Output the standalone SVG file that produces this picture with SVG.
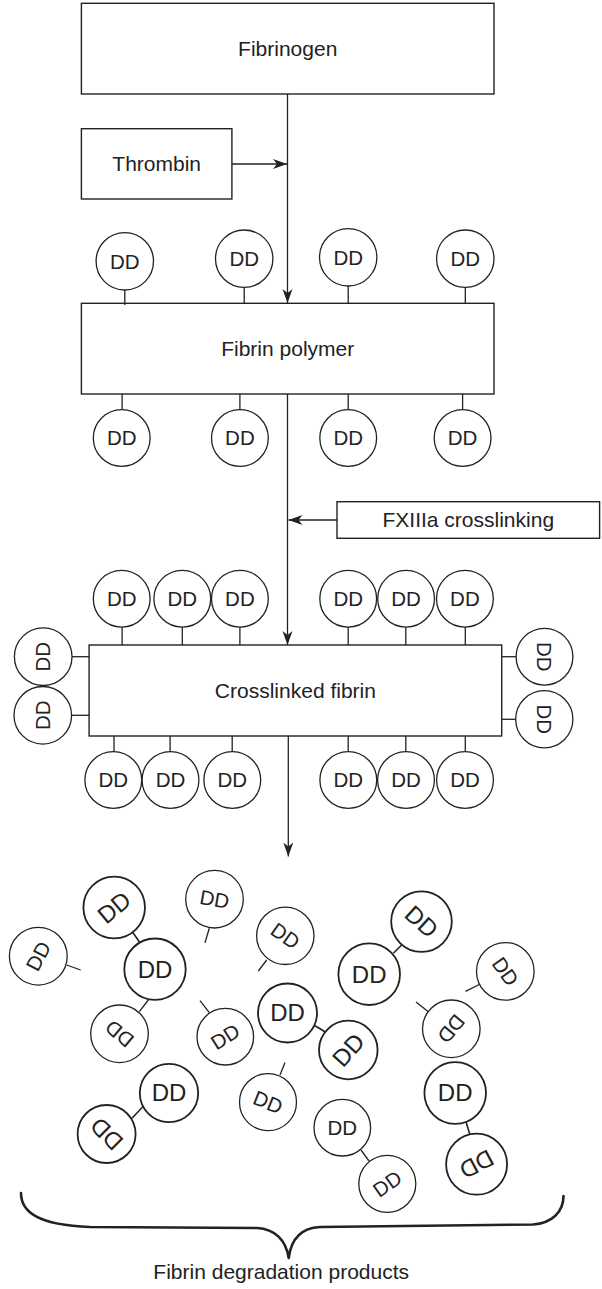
<svg xmlns="http://www.w3.org/2000/svg" width="602" height="1289" viewBox="0 0 602 1289">
  <style>
    .box { fill: #fff; stroke: #222; stroke-width: 1.4; }
    .lbl { font-family: "Liberation Sans", Arial, sans-serif; font-size: 21px; fill: #222; text-anchor: middle; }
    .dd { fill: #fff; stroke: #222; stroke-width: 1.3; }
    .ddb { fill: #fff; stroke: #222; stroke-width: 1.8; }
    .dt { font-family: "Liberation Sans", Arial, sans-serif; font-size: 20.5px; fill: #222; text-anchor: middle; }
    .dtb { font-family: "Liberation Sans", Arial, sans-serif; font-size: 24px; fill: #222; text-anchor: middle; }
    .stem { stroke: #222; stroke-width: 1.3; fill: none; }
    .stemb { stroke: #222; stroke-width: 1.6; fill: none; }
    .flow { stroke: #222; stroke-width: 1.3; fill: none; marker-end: url(#head); }
    .brace { stroke: #222; stroke-width: 2.6; fill: none; stroke-linecap: round; stroke-linejoin: round; }
  </style>
  <defs>
    <marker id="head" markerUnits="userSpaceOnUse" markerWidth="16" markerHeight="12" refX="14" refY="5" orient="auto">
      <path d="M0,0 L14,5 L0,10 L4,5 Z" fill="#222"/>
    </marker>
  </defs>
  <rect width="602" height="1289" fill="#fff"/>

  <!-- flow arrows -->
  <g id="connectors">
    <line class="flow" x1="287.5" y1="94" x2="287.5" y2="303"/>
    <line class="flow" x1="231.9" y1="164" x2="287" y2="164"/>
    <line class="flow" x1="287.5" y1="394" x2="287.5" y2="645"/>
    <line class="flow" x1="337" y1="520" x2="288.5" y2="520"/>
    <line class="flow" x1="288.3" y1="736" x2="288.3" y2="856.5"/>
  </g>

  <g id="fibrinogen">
    <rect class="box" x="81.4" y="3.3" width="412.6" height="90.7"/>
    <text class="lbl" x="287.7" y="56">Fibrinogen</text>
  </g>

  <g id="thrombin">
    <rect class="box" x="81.4" y="128.7" width="150.5" height="70.3"/>
    <text class="lbl" x="156.7" y="170.7">Thrombin</text>
  </g>

  <g id="fibrin-polymer">
    <rect class="box" x="81.4" y="303.3" width="412.6" height="90.7"/>
    <text class="lbl" x="287.7" y="356">Fibrin polymer</text>
    <!-- upper DD domains -->
    <g id="fp-dd-top">
      <line class="stem" x1="124.8" y1="290" x2="124.8" y2="305"/>
      <line class="stem" x1="244.2" y1="287.4" x2="244.2" y2="303.3"/>
      <line class="stem" x1="348.2" y1="286" x2="348.2" y2="303.3"/>
      <line class="stem" x1="465.3" y1="287.4" x2="465.3" y2="303.3"/>
      <circle class="dd" cx="124.8" cy="261.3" r="28.7"/>
      <circle class="dd" cx="244.2" cy="258.7" r="28.7"/>
      <circle class="dd" cx="348.2" cy="257.3" r="28.7"/>
      <circle class="dd" cx="465.3" cy="258.7" r="28.7"/>
      <text class="dt" x="124.8" y="268.5">DD</text>
      <text class="dt" x="244.2" y="265.9">DD</text>
      <text class="dt" x="348.2" y="264.5">DD</text>
      <text class="dt" x="465.3" y="265.9">DD</text>
    </g>
    <!-- lower DD domains -->
    <g id="fp-dd-bottom">
      <line class="stem" x1="122.1" y1="394" x2="122.1" y2="409.5"/>
      <line class="stem" x1="239.9" y1="394" x2="239.9" y2="409.5"/>
      <line class="stem" x1="348.2" y1="394" x2="348.2" y2="409.5"/>
      <line class="stem" x1="462.6" y1="394" x2="462.6" y2="409.5"/>
      <circle class="dd" cx="121.7" cy="438" r="28.4"/>
      <circle class="dd" cx="239.9" cy="438" r="28.4"/>
      <circle class="dd" cx="348.2" cy="438" r="28.4"/>
      <circle class="dd" cx="462.6" cy="438" r="28.4"/>
      <text class="dt" x="121.7" y="445.2">DD</text>
      <text class="dt" x="239.9" y="445.2">DD</text>
      <text class="dt" x="348.2" y="445.2">DD</text>
      <text class="dt" x="462.6" y="445.2">DD</text>
    </g>
  </g>

  <g id="fxiiia">
    <rect class="box" x="337" y="501.7" width="262.6" height="36.6"/>
    <text class="lbl" x="468.3" y="526.7">FXIIIa crosslinking</text>
  </g>

  <g id="crosslinked-fibrin">
    <!-- tethers -->
    <g>
      <line class="stem" x1="122.1" y1="627" x2="122.1" y2="645"/>
      <line class="stem" x1="182.3" y1="627" x2="182.3" y2="645"/>
      <line class="stem" x1="239.9" y1="627" x2="239.9" y2="645"/>
      <line class="stem" x1="348.2" y1="627" x2="348.2" y2="645"/>
      <line class="stem" x1="405.8" y1="627" x2="405.8" y2="645"/>
      <line class="stem" x1="465.3" y1="627" x2="465.3" y2="645"/>
      <line class="stem" x1="72" y1="656.7" x2="89.1" y2="656.7"/>
      <line class="stem" x1="71.6" y1="715.3" x2="89.1" y2="715.3"/>
      <line class="stem" x1="501.7" y1="656.7" x2="516" y2="656.7"/>
      <line class="stem" x1="499.5" y1="719.3" x2="515.6" y2="719.3"/>
      <line class="stem" x1="114" y1="736" x2="114" y2="751.5"/>
      <line class="stem" x1="170.1" y1="736" x2="170.1" y2="751.5"/>
      <line class="stem" x1="232.2" y1="736" x2="232.2" y2="751.5"/>
      <line class="stem" x1="348.2" y1="736" x2="348.2" y2="751.5"/>
      <line class="stem" x1="405.8" y1="736" x2="405.8" y2="751.5"/>
      <line class="stem" x1="465.3" y1="736" x2="465.3" y2="751.5"/>
    </g>
    <rect class="box" x="89.1" y="645" width="412.6" height="91"/>
    <text class="lbl" x="295.4" y="698">Crosslinked fibrin</text>
    <!-- upper row -->
    <g>
      <circle class="dd" cx="121.7" cy="598.7" r="28.4"/>
      <circle class="dd" cx="182.3" cy="598.7" r="28.4"/>
      <circle class="dd" cx="239.9" cy="598.7" r="28.4"/>
      <circle class="dd" cx="348.2" cy="598.7" r="28.4"/>
      <circle class="dd" cx="406.1" cy="598.7" r="28.4"/>
      <circle class="dd" cx="464.9" cy="598.7" r="28.4"/>
      <text class="dt" x="121.7" y="605.9">DD</text>
      <text class="dt" x="182.3" y="605.9">DD</text>
      <text class="dt" x="239.9" y="605.9">DD</text>
      <text class="dt" x="348.2" y="605.9">DD</text>
      <text class="dt" x="406.1" y="605.9">DD</text>
      <text class="dt" x="464.9" y="605.9">DD</text>
    </g>
    <!-- side domains -->
    <g>
      <circle class="dd" cx="43.2" cy="656.7" r="28.8"/>
      <circle class="dd" cx="42.8" cy="715.3" r="28.8"/>
      <circle class="dd" cx="544.5" cy="656.7" r="28.4"/>
      <circle class="dd" cx="544.3" cy="719.3" r="28.6"/>
      <text class="dt" transform="translate(43.2 656.7) rotate(-90)" y="7.2">DD</text>
      <text class="dt" transform="translate(42.8 715.3) rotate(-90)" y="7.2">DD</text>
      <text class="dt" transform="translate(544.5 656.7) rotate(90)" y="7.2">DD</text>
      <text class="dt" transform="translate(544.3 719.3) rotate(90)" y="7.2">DD</text>
    </g>
    <!-- lower row -->
    <g>
      <circle class="dd" cx="113.3" cy="780" r="28.4"/>
      <circle class="dd" cx="170.5" cy="780" r="28.4"/>
      <circle class="dd" cx="232.3" cy="780" r="28.4"/>
      <circle class="dd" cx="348.3" cy="780" r="28.4"/>
      <circle class="dd" cx="406" cy="780" r="28.4"/>
      <circle class="dd" cx="465" cy="780" r="28.4"/>
      <text class="dt" x="113.3" y="787.2">DD</text>
      <text class="dt" x="170.5" y="787.2">DD</text>
      <text class="dt" x="232.3" y="787.2">DD</text>
      <text class="dt" x="348.3" y="787.2">DD</text>
      <text class="dt" x="406" y="787.2">DD</text>
      <text class="dt" x="465" y="787.2">DD</text>
    </g>
  </g>

  <!-- degradation fragments -->
  <g id="fragments">
    <g id="frag-tethers">
      <line class="stemb" x1="132.3" y1="931.7" x2="140" y2="942.7"/>
      <line class="stem" x1="148.3" y1="1000" x2="139.3" y2="1011.7"/>
      <line class="stem" x1="66.7" y1="965" x2="80.7" y2="970"/>
      <line class="stem" x1="209.3" y1="928.3" x2="205" y2="942.7"/>
      <line class="stem" x1="266.7" y1="960" x2="258.3" y2="971"/>
      <line class="stemb" x1="401.7" y1="945" x2="393.3" y2="953.3"/>
      <line class="stemb" x1="315" y1="1025.7" x2="325" y2="1031.7"/>
      <line class="stem" x1="209.3" y1="1012.7" x2="200" y2="1000.7"/>
      <line class="stem" x1="479.3" y1="984.5" x2="465.5" y2="991.3"/>
      <line class="stem" x1="428" y1="1011.5" x2="416" y2="1002"/>
      <line class="stemb" x1="466" y1="1121.7" x2="470" y2="1135"/>
      <line class="stem" x1="285" y1="1062.5" x2="280" y2="1075"/>
      <line class="stemb" x1="143" y1="1106.5" x2="132" y2="1118.3"/>
      <line class="stem" x1="361" y1="1150" x2="369" y2="1161"/>
    </g>
    <g id="frag-a">
      <circle class="ddb" cx="114.2" cy="907.5" r="30.8"/>
      <text class="dtb" transform="translate(114.2 907.5) rotate(-40)" y="8.4">DD</text>
    </g>
    <g id="frag-b">
      <circle class="ddb" cx="155" cy="969.2" r="30.7"/>
      <text class="dtb" transform="translate(155 969.2)" y="8.4">DD</text>
    </g>
    <g id="frag-c">
      <circle class="dd" cx="38.3" cy="956.2" r="28.9"/>
      <text class="dt" transform="translate(38.3 956.2) rotate(-62)" y="7.2">DD</text>
    </g>
    <g id="frag-d">
      <circle class="dd" cx="119.5" cy="1033.8" r="28.8"/>
      <text class="dt" transform="translate(119.5 1033.8) rotate(220)" y="7.2">DD</text>
    </g>
    <g id="frag-e">
      <circle class="dd" cx="214.5" cy="899.2" r="28.8"/>
      <text class="dt" transform="translate(214.5 899.2) rotate(10)" y="7.2">DD</text>
    </g>
    <g id="frag-f">
      <circle class="dd" cx="285.3" cy="935.8" r="28.7"/>
      <text class="dt" transform="translate(285.3 935.8) rotate(35)" y="7.2">DD</text>
    </g>
    <g id="frag-g">
      <circle class="ddb" cx="369.2" cy="974.2" r="30.8"/>
      <text class="dtb" transform="translate(369.2 974.2)" y="8.4">DD</text>
    </g>
    <g id="frag-h">
      <circle class="ddb" cx="421.5" cy="921.6" r="30.3"/>
      <text class="dtb" transform="translate(421.5 921.6) rotate(42)" y="8.4">DD</text>
    </g>
    <g id="frag-i">
      <circle class="ddb" cx="287.5" cy="1013" r="29.5"/>
      <text class="dtb" transform="translate(287.5 1013)" y="8.4">DD</text>
    </g>
    <g id="frag-j">
      <circle class="ddb" cx="348.3" cy="1050" r="29.3"/>
      <text class="dtb" transform="translate(348.3 1050) rotate(-48)" y="8.4">DD</text>
    </g>
    <g id="frag-k">
      <circle class="dd" cx="225.3" cy="1036.7" r="28.3"/>
      <text class="dt" transform="translate(225.3 1036.7) rotate(-32)" y="7.2">DD</text>
    </g>
    <g id="frag-l">
      <circle class="dd" cx="505.3" cy="971.4" r="28.8"/>
      <text class="dt" transform="translate(505.3 971.4) rotate(55)" y="7.2">DD</text>
    </g>
    <g id="frag-m">
      <circle class="dd" cx="451.3" cy="1028.8" r="28.8"/>
      <text class="dt" transform="translate(451.3 1028.8) rotate(130)" y="7.2">DD</text>
    </g>
    <g id="frag-n">
      <circle class="ddb" cx="455.2" cy="1093" r="30.8"/>
      <text class="dtb" transform="translate(455.2 1093)" y="8.4">DD</text>
    </g>
    <g id="frag-o">
      <circle class="ddb" cx="476.6" cy="1164.2" r="30.5"/>
      <text class="dtb" transform="translate(476.6 1164.2) rotate(152)" y="8.4">DD</text>
    </g>
    <g id="frag-p">
      <circle class="dd" cx="268" cy="1102.2" r="28.5"/>
      <text class="dt" transform="translate(268 1102.2) rotate(22)" y="7.2">DD</text>
    </g>
    <g id="frag-q">
      <circle class="ddb" cx="169" cy="1093" r="29.2"/>
      <text class="dtb" transform="translate(169 1093)" y="8.4">DD</text>
    </g>
    <g id="frag-r">
      <circle class="ddb" cx="106.6" cy="1134" r="29"/>
      <text class="dtb" transform="translate(106.6 1134) rotate(225)" y="8.4">DD</text>
    </g>
    <g id="frag-s">
      <circle class="dd" cx="342.3" cy="1127.7" r="28.3"/>
      <text class="dt" transform="translate(342.3 1127.7)" y="7.2">DD</text>
    </g>
    <g id="frag-t">
      <circle class="dd" cx="387.3" cy="1183.8" r="28.5"/>
      <text class="dt" transform="translate(387.3 1183.8) rotate(-35)" y="7.2">DD</text>
    </g>
  </g>

  <g id="products">
    <path class="brace" d="M21,1193 C21,1212 38,1225 90,1227 L257,1228 C275,1229 286,1240 288.7,1258 C291,1240 300,1228 320,1227 L533,1224.5 C552,1223 563.5,1212 563.5,1196"/>
    <text class="lbl" x="281.2" y="1279">Fibrin degradation products</text>
  </g>
</svg>
